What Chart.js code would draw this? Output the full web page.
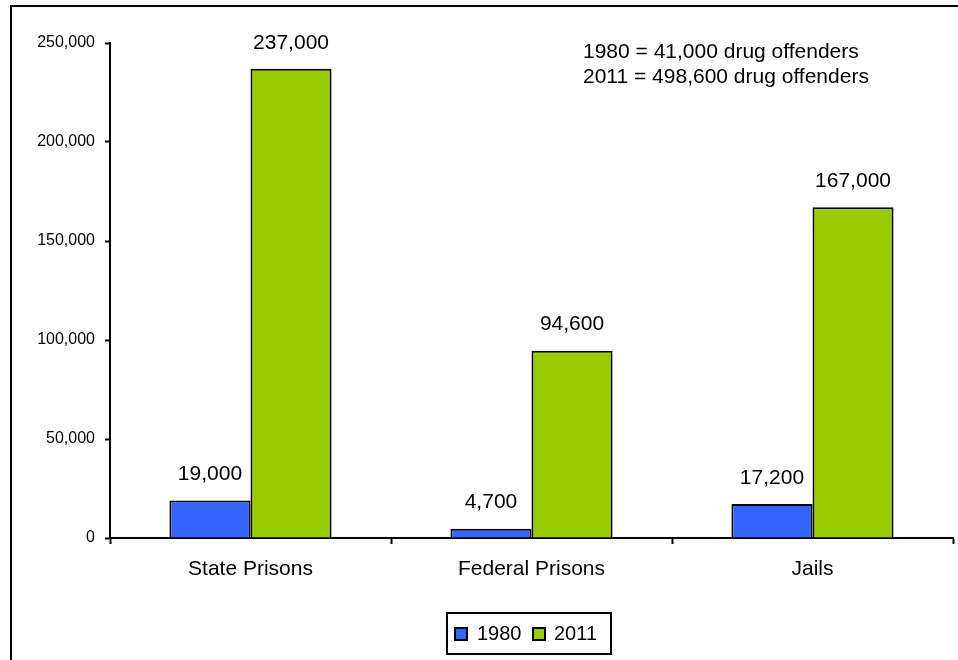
<!DOCTYPE html>
<html>
<head>
<meta charset="utf-8">
<script src="https://cdn.jsdelivr.net/npm/chart.js@4.4.0/dist/chart.umd.min.js"></script>
<style>
  html, body { margin: 0; padding: 0; background: #fff; }
  #wrap { width: 958px; height: 660px; }
</style>
</head>
<body>
<div id="wrap"><canvas id="myChart" width="958" height="660"></canvas></div>
<script>
const categories = ["State Prisons", "Federal Prisons", "Jails"];
const seriesNames = ["1980", "2011"];
const values1980 = [19000, 4700, 17200];
const values2011 = [237000, 94600, 167000];
const barColors = ["#3366FF", "#99CC00"];
const noteLines = ["1980 = 41,000 drug offenders", "2011 = 498,600 drug offenders"];
const FONT = "'Liberation Sans', Arial, sans-serif";

function fmt(v){
    return Number(v).toLocaleString('en-US');
}

// frame, value labels, note text and boxed legend
const extras = {
    id: 'extras',
    beforeDraw(chart){
        const ctx = chart.ctx;
        ctx.save();
        ctx.fillStyle = '#fff';
        ctx.fillRect(0, 0, chart.width, chart.height);
        ctx.strokeStyle = '#000';
        ctx.lineWidth = 2;
        ctx.beginPath();
        ctx.moveTo(11, chart.height + 5);
        ctx.lineTo(11, 6);
        ctx.lineTo(chart.width + 5, 6);
        ctx.stroke();
        ctx.restore();
    },
    afterDraw(chart){
        const ctx = chart.ctx;
        ctx.save();
        ctx.fillStyle = '#000';
        ctx.textAlign = 'center';
        ctx.textBaseline = 'middle';
        ctx.font = '21px ' + FONT;
        chart.data.datasets.forEach((ds, i) => {
            chart.getDatasetMeta(i).data.forEach((bar, j) => {
                ctx.fillText(fmt(ds.data[j]), bar.x, bar.y - 26);
            });
        });

        ctx.textAlign = 'left';
        noteLines.forEach((line, k) => {
            ctx.fillText(line, 583, 52 + k * 25);
        });

        // legend
        const lx = 447, ly = 613, lw = 164, lh = 41;
        ctx.strokeStyle = '#000';
        ctx.lineWidth = 2;
        ctx.strokeRect(lx, ly, lw, lh);
        ctx.font = '20px ' + FONT;
        const items = [[455, 477], [533, 554]];
        chart.data.datasets.forEach((ds, i) => {
            const [bx, tx] = items[i];
            ctx.fillStyle = ds.backgroundColor;
            ctx.fillRect(bx, 628, 12, 12);
            ctx.lineWidth = 2;
            ctx.strokeRect(bx, 628, 12, 12);
            ctx.fillStyle = '#000';
            ctx.fillText(ds.label, tx, 634);
        });
        ctx.restore();
    }
};

new Chart("myChart", {
    type: "bar",
    data: {
        labels: categories,
        datasets: [
            {
                label: seriesNames[0],
                data: values1980,
                backgroundColor: barColors[0],
                borderColor: '#000',
                borderWidth: 2
            },
            {
                label: seriesNames[1],
                data: values2011,
                backgroundColor: barColors[1],
                borderColor: '#000',
                borderWidth: 2
            }
        ]
    },
    options: {
        responsive: false,
        animation: false,
        layout: { padding: { left: 0, right: 5, top: 43, bottom: 0 } },
        datasets: { bar: { categoryPercentage: 0.577, barPercentage: 1 } },
        plugins: {
            legend: { display: false },
            tooltip: { enabled: false },
            title: { display: false }
        },
        scales: {
            x: {
                grid: {
                    offset: true,
                    drawOnChartArea: false,
                    color: '#000',
                    tickLength: 6,
                    tickWidth: 2
                },
                border: { color: '#000', width: 2 },
                ticks: {
                    color: '#000',
                    padding: 13,
                    font: { family: FONT, size: 21 }
                },
                afterFit(scale){ scale.height = 122; }
            },
            y: {
                min: 0,
                max: 250000,
                grid: {
                    drawOnChartArea: false,
                    color: '#000',
                    tickLength: 5,
                    tickWidth: 2
                },
                border: { color: '#000', width: 2 },
                ticks: {
                    stepSize: 50000,
                    color: '#000',
                    padding: 10,
                    font: { family: FONT, size: 16 },
                    callback: v => fmt(v)
                },
                afterFit(scale){ scale.width = 110; }
            }
        }
    },
    plugins: [extras]
});
</script>
</body>
</html>
